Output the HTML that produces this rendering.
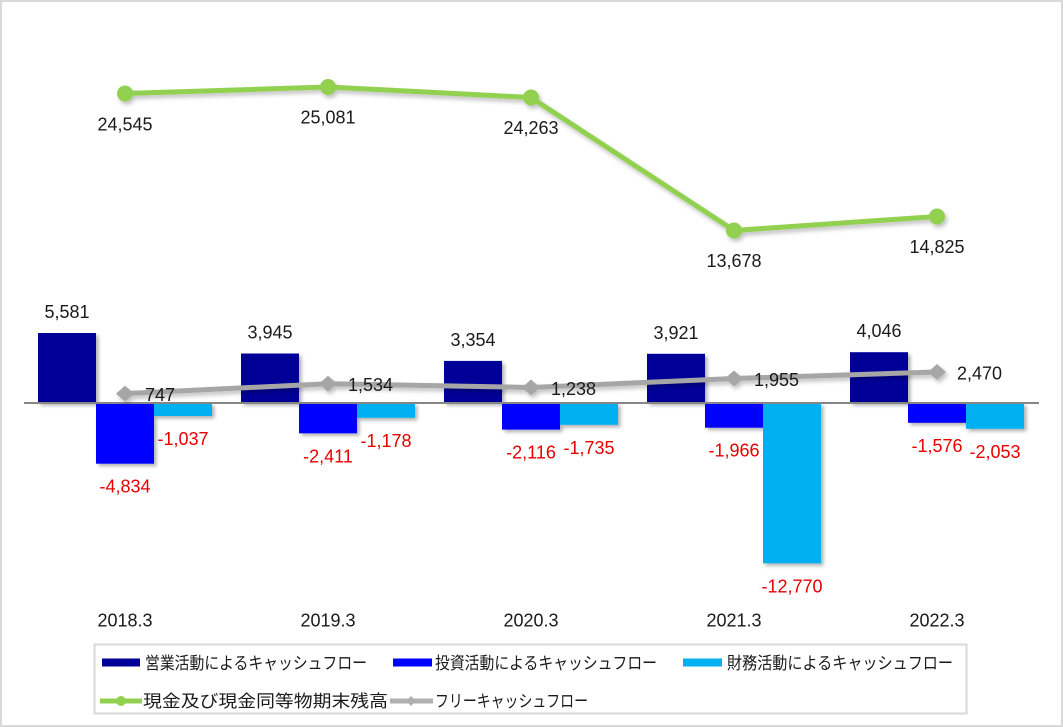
<!DOCTYPE html>
<html>
<head>
<meta charset="utf-8">
<style>
  html, body { margin: 0; padding: 0; background: #fff; }
  body { width: 1063px; height: 727px; overflow: hidden; }
  svg { display: block; }
  .num { font-family: "Liberation Sans", sans-serif; font-size: 18px; fill: #1a1a1a; }
  .neg { fill: #e60000; }
  .cat { font-family: "Liberation Sans", sans-serif; font-size: 18px; fill: #1a1a1a; }
  .leg { font-family: "Liberation Sans", "Noto Sans CJK JP", sans-serif; font-size: 17px; fill: #1a1a1a; }
</style>
</head>
<body>
<svg width="1063" height="727" viewBox="0 0 1063 727" xmlns="http://www.w3.org/2000/svg">
  <defs>
    <filter id="sh" x="-20%" y="-20%" width="150%" height="150%">
      <feDropShadow dx="2.5" dy="2.5" stdDeviation="1.8" flood-color="#000" flood-opacity="0.3"/>
    </filter>
    <filter id="shl" x="-5%" y="-20%" width="110%" height="160%">
      <feDropShadow dx="2" dy="3" stdDeviation="2" flood-color="#000" flood-opacity="0.25"/>
    </filter>
  </defs>

  <!-- outer frame -->
  <rect x="1" y="1" width="1061" height="725" fill="#fff" stroke="#d9d9d9" stroke-width="2"/>

  <!-- bars: operating (navy) -->
  <g filter="url(#sh)">
    <rect x="38" y="333" width="58" height="70" fill="#000099"/>
    <rect x="241" y="353.5" width="58" height="49.5" fill="#000099"/>
    <rect x="444" y="360.9" width="58" height="42.1" fill="#000099"/>
    <rect x="647" y="353.8" width="58" height="49.2" fill="#000099"/>
    <rect x="850" y="352.2" width="58" height="50.8" fill="#000099"/>
    <!-- investing (blue) -->
    <rect x="96" y="403" width="58" height="60.7" fill="#0000ff"/>
    <rect x="299" y="403" width="58" height="30.3" fill="#0000ff"/>
    <rect x="502" y="403" width="58" height="26.6" fill="#0000ff"/>
    <rect x="705" y="403" width="58" height="24.7" fill="#0000ff"/>
    <rect x="908" y="403" width="58" height="19.8" fill="#0000ff"/>
    <!-- financing (cyan) -->
    <rect x="154" y="403" width="58" height="13" fill="#00b0f0"/>
    <rect x="357" y="403" width="58" height="14.8" fill="#00b0f0"/>
    <rect x="560" y="403" width="58" height="21.8" fill="#00b0f0"/>
    <rect x="763" y="403" width="58" height="160.3" fill="#00b0f0"/>
    <rect x="966" y="403" width="58" height="25.8" fill="#00b0f0"/>
  </g>

  <!-- zero axis -->
  <line x1="24" y1="403" x2="1039" y2="403" stroke="#868686" stroke-width="2"/>

  <!-- cash balance line (green) -->
  <g filter="url(#shl)">
    <polyline points="125,93.5 328,87 531,97.5 734,230.5 937,216.5" fill="none" stroke="#92d050" stroke-width="5" stroke-linejoin="round"/>
    <circle cx="125" cy="93.5" r="8" fill="#92d050"/>
    <circle cx="328" cy="87" r="8" fill="#92d050"/>
    <circle cx="531" cy="97.5" r="8" fill="#92d050"/>
    <circle cx="734" cy="230.5" r="8" fill="#92d050"/>
    <circle cx="937" cy="216.5" r="8" fill="#92d050"/>
  </g>

  <!-- free cash flow line (gray) -->
  <g filter="url(#shl)">
    <polyline points="125,393.6 328,383.7 531,387.5 734,378.5 937,372" fill="none" stroke="#a6a6a6" stroke-width="5" stroke-linejoin="round"/>
    <polygon points="116,393.6 125,385.6 134,393.6 125,401.6" fill="#a6a6a6"/>
    <polygon points="319,383.7 328,375.7 337,383.7 328,391.7" fill="#a6a6a6"/>
    <polygon points="522,387.5 531,379.5 540,387.5 531,395.5" fill="#a6a6a6"/>
    <polygon points="725,378.5 734,370.5 743,378.5 734,386.5" fill="#a6a6a6"/>
    <polygon points="928,372 937,364 946,372 937,380" fill="#a6a6a6"/>
  </g>

  <!-- labels: operating -->
  <g class="num" text-anchor="middle">
    <text x="67" y="318">5,581</text>
    <text x="270" y="338.5">3,945</text>
    <text x="473" y="346">3,354</text>
    <text x="676" y="339">3,921</text>
    <text x="879" y="337">4,046</text>
  </g>
  <!-- labels: investing -->
  <g class="num neg" text-anchor="middle">
    <text x="125" y="492.7">-4,834</text>
    <text x="328" y="462.3">-2,411</text>
    <text x="531" y="458.6">-2,116</text>
    <text x="734" y="456.7">-1,966</text>
    <text x="937" y="451.8">-1,576</text>
  </g>
  <!-- labels: financing -->
  <g class="num neg" text-anchor="middle">
    <text x="183" y="445">-1,037</text>
    <text x="386" y="446.8">-1,178</text>
    <text x="589" y="453.8">-1,735</text>
    <text x="792" y="592.3">-12,770</text>
    <text x="995" y="457.8">-2,053</text>
  </g>
  <!-- labels: cash balance -->
  <g class="num" text-anchor="middle">
    <text x="125" y="130.5">24,545</text>
    <text x="328" y="123.5">25,081</text>
    <text x="531" y="134">24,263</text>
    <text x="734" y="267">13,678</text>
    <text x="937" y="253">14,825</text>
  </g>
  <!-- labels: FCF -->
  <g class="num">
    <text x="145" y="401.1">747</text>
    <text x="348" y="391.2">1,534</text>
    <text x="551" y="395">1,238</text>
    <text x="754" y="386">1,955</text>
    <text x="957" y="379.5">2,470</text>
  </g>

  <!-- category labels -->
  <g class="cat" text-anchor="middle">
    <text x="125" y="626.5">2018.3</text>
    <text x="328" y="626.5">2019.3</text>
    <text x="531" y="626.5">2020.3</text>
    <text x="734" y="626.5">2021.3</text>
    <text x="937" y="626.5">2022.3</text>
  </g>

  <!-- legend -->
  <rect x="94.5" y="644.5" width="872" height="69" fill="#fff" stroke="#d9d9d9" stroke-width="2"/>
  <rect x="102" y="658.5" width="38" height="8" fill="#000099"/>
  <text class="leg" x="145" y="669" textLength="222" lengthAdjust="spacingAndGlyphs">営業活動によるキャッシュフロー</text>
  <rect x="393" y="658.5" width="39" height="8" fill="#0000ff"/>
  <text class="leg" x="435" y="669" textLength="222" lengthAdjust="spacingAndGlyphs">投資活動によるキャッシュフロー</text>
  <rect x="683" y="658.5" width="39" height="8" fill="#00b0f0"/>
  <text class="leg" x="727" y="669" textLength="226" lengthAdjust="spacingAndGlyphs">財務活動によるキャッシュフロー</text>

  <line x1="100" y1="701" x2="142" y2="701" stroke="#92d050" stroke-width="5"/>
  <circle cx="121" cy="701" r="5" fill="#92d050"/>
  <text class="leg" x="143" y="707" textLength="245" lengthAdjust="spacingAndGlyphs">現金及び現金同等物期末残高</text>
  <line x1="390" y1="701" x2="433" y2="701" stroke="#b0b0b0" stroke-width="5"/>
  <polygon points="406,701 411,696 416,701 411,706" fill="#b0b0b0"/>
  <text class="leg" x="435" y="707" textLength="153" lengthAdjust="spacingAndGlyphs">フリーキャッシュフロー</text>
</svg>
</body>
</html>
